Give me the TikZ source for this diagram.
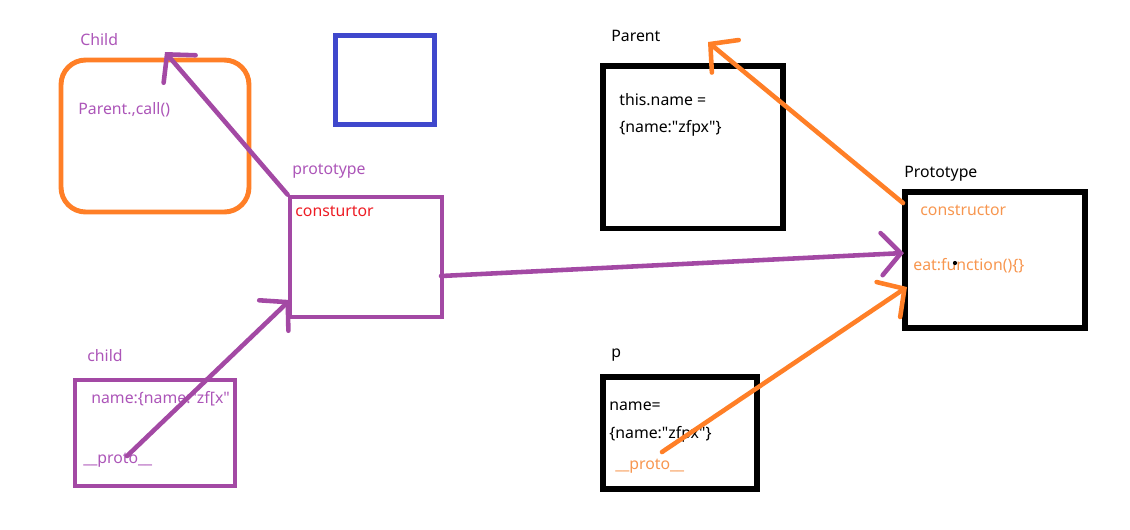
\documentclass[tikz,border=0pt]{standalone}
\usepackage{fontspec}
\setmainfont{Noto Sans}[Ligatures=TeXOff]
\usetikzlibrary{arrows.meta}

\definecolor{paintpurple}{HTML}{A349A4}
\definecolor{textpurple}{HTML}{AC55B8}
\definecolor{paintorange}{HTML}{FF7F27}
\definecolor{textorange}{HTML}{F7964F}
\definecolor{paintblue}{HTML}{3F48CC}
\definecolor{paintred}{HTML}{ED1C24}

\tikzset{
  box/.style={draw, line width=2.8pt, inner sep=0pt},
  blackbox/.style={box, black, line width=3.4pt},
  lbl/.style={anchor=west, inner sep=0pt, font=\fontsize{9}{11}\selectfont},
  pen/.style={line width=2.6pt, line cap=round,
    -{Straight Barb[length=11pt,width=24pt,line cap=round]}},
}

\begin{document}
\begin{tikzpicture}[x=0.02cm, y=-0.02cm]
    \useasboundingbox (0,0) rectangle (1130,529);
    % left side: boxes
    \node[box, paintorange, rounded corners=14pt, minimum width=3.76cm, minimum height=3.04cm] (childBox) at (155,136) {};
    \node[box, paintblue, minimum width=1.98cm, minimum height=1.78cm] (blueBox) at (385,80) {};
    \node[box, paintpurple, minimum width=3.04cm, minimum height=2.4cm] (protoBox) at (366,257) {};
    \node[box, paintpurple, minimum width=3.2cm, minimum height=2.12cm] (childObj) at (155,433) {};
    % right side: boxes
    \node[blackbox, minimum width=3.6cm, minimum height=3.26cm] (parentBox) at (693,147) {};
    \node[blackbox, minimum width=3.6cm, minimum height=2.72cm] (ProtoBox) at (995,260) {};
    \node[blackbox, minimum width=3.08cm, minimum height=2.24cm] (pBox) at (680,433) {};
    % labels
    \node[lbl, textpurple] (childLbl) at (80,40) {Child};
    \node[lbl, textpurple] (callTxt) at (78,110) {Parent.,call()};
    \node[lbl, textpurple] (protoLbl) at (292,171) {prototype};
    \node[lbl, paintred] (consTxt) at (295,211) {consturtor};
    \node[lbl, textpurple] (childObjLbl) at (87,356) {child};
    \node[lbl, textpurple] (nameTxt) at (91,399) {name:\{name:"zf[x"};
    \node[lbl, textpurple] (protoTxt) at (83,460) {\_\_proto\_\_};
    \node[lbl] (parentLbl) at (611,36) {Parent};
    \node[lbl] (thisTxt) at (619,100) {this.name =};
    \node[lbl] (thisVal) at (619,128) {\{name:"zfpx"\}};
    \node[lbl] (ProtoLbl) at (904,174) {Prototype};
    \node[lbl, textorange] (ctorTxt) at (920,210) {constructor};
    \node[lbl, textorange] (eatTxt) at (913,266) {eat:function()\{\}};
    \fill (955,263) circle (1.2pt);
    \node[lbl] (pLbl) at (611,355) {p};
    \node[lbl] (pName) at (609,406) {name=};
    \node[lbl] (pVal) at (609,434) {\{name:"zfpx"\}};
    \node[lbl, textorange] (pProto) at (615,466) {\_\_proto\_\_};
    % connector ends
    \coordinate (childTop) at (165,52);
    \coordinate (childStart) at (127,456);
    \coordinate (protoIn) at (290,300);
    \coordinate (protoOut) at (441,276);
    \coordinate (eatIn) at (904,253);
    \coordinate (ctorOut) at (903,203);
    \coordinate (parentTop) at (708,42);
    \coordinate (pStart) at (662,452);
    \coordinate (eatIn2) at (907,287);
    % arrows
    \draw[pen, paintpurple] (protoBox.north west) -- (childTop);
    \draw[pen, paintpurple] (childStart) -- (protoIn);
    \draw[pen, paintpurple] (protoOut) -- (eatIn);
    \draw[pen, paintorange] (ctorOut) -- (parentTop);
    \draw[pen, paintorange] (pStart) -- (eatIn2);
  \end{tikzpicture}
\end{document}
